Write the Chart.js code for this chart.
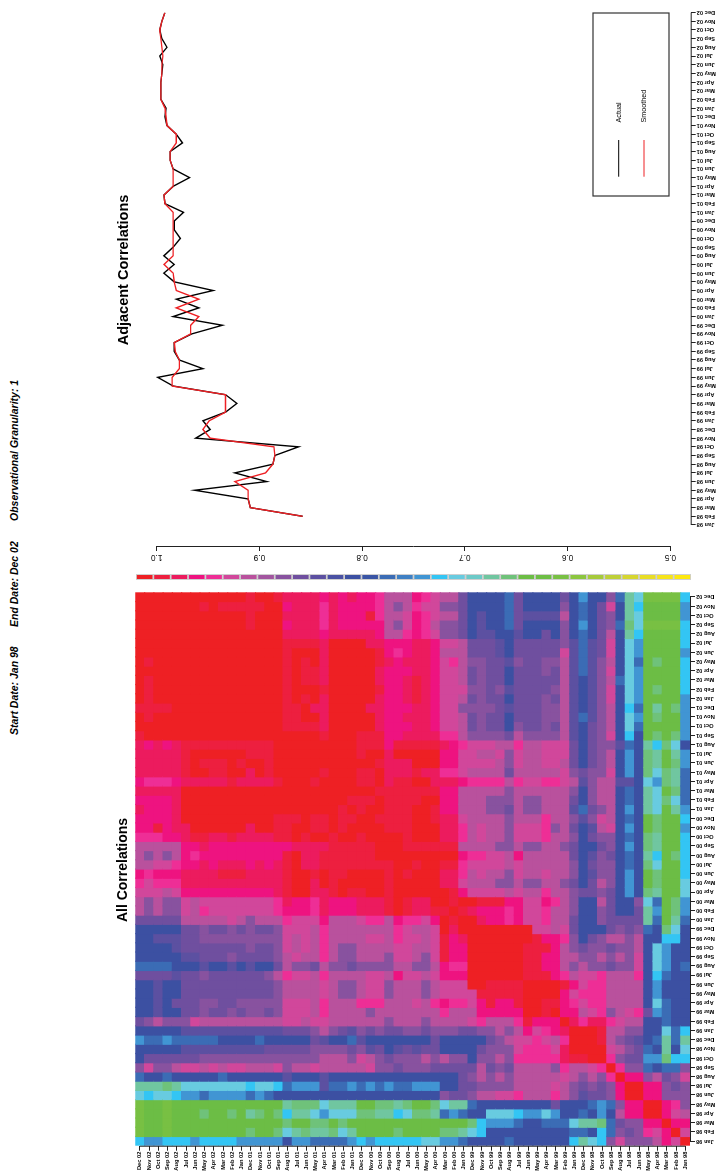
<!DOCTYPE html>
<html><head><meta charset="utf-8">
<script src="https://cdn.jsdelivr.net/npm/chart.js@4"></script>
<style>
html,body{margin:0;padding:0;background:#fff;width:718px;height:1172px;overflow:hidden}
#page{position:absolute;left:0;top:1172px;width:1172px;height:718px;transform-origin:0 0;transform:rotate(-90deg)}
#page canvas{position:absolute}
.hd{position:absolute;top:8px;font:italic bold 10.5px "Liberation Sans",Arial,sans-serif;color:#000;white-space:nowrap}
</style></head>
<body>
<div id="page">
<div class="hd" style="left:437px">Start Date: Jan 98</div>
<div class="hd" style="left:545px">End Date: Dec 02</div>
<div class="hd" style="left:651px">Observational Granularity: 1</div>
<canvas id="heat" width="604" height="718" style="left:0;top:0"></canvas>
<canvas id="bar" width="6" height="555" style="left:592px;top:135.5px;background:#cfcfcf"></canvas>
<canvas id="line" width="596" height="718" style="left:604px;top:0"></canvas>
</div>
<script>
const months=["Jan 98","Feb 98","Mar 98","Apr 98","May 98","Jun 98","Jul 98","Aug 98","Sep 98","Oct 98","Nov 98","Dec 98",
"Jan 99","Feb 99","Mar 99","Apr 99","May 99","Jun 99","Jul 99","Aug 99","Sep 99","Oct 99","Nov 99","Dec 99",
"Jan 00","Feb 00","Mar 00","Apr 00","May 00","Jun 00","Jul 00","Aug 00","Sep 00","Oct 00","Nov 00","Dec 00",
"Jan 01","Feb 01","Mar 01","Apr 01","May 01","Jun 01","Jul 01","Aug 01","Sep 01","Oct 01","Nov 01","Dec 01",
"Jan 02","Feb 02","Mar 02","Apr 02","May 02","Jun 02","Jul 02","Aug 02","Sep 02","Oct 02","Nov 02","Dec 02"];
// adjacent correlations, Feb 98 .. Dec 02
const adjacentActual=[.858,.909,.911,.963,.893,.924,.887,.885,.862,.962,.948,.955,.933,.922,.933,.984,.999,.955,.978,.983,.983,.966,.936,.984,.959,.981,.945,.983,.993,.983,.993,.984,.977,.983,.983,.974,.992,.993,.984,.968,.984,.987,.987,.975,.981,.990,.992,.991,.996,.996,.996,.995,.994,.997,.990,.995,.997,.995,.992];
const adjacentSmoothed=[.858,.909,.911,.911,.924,.894,.887,.885,.886,.948,.955,.949,.933,.933,.933,.985,.985,.978,.978,.982,.983,.967,.967,.959,.981,.959,.981,.983,.984,.993,.984,.984,.984,.984,.984,.984,.992,.993,.984,.984,.984,.987,.987,.981,.981,.990,.991,.992,.996,.996,.996,.995,.995,.994,.995,.996,.997,.995,.992];
const valueTicks=[1.0,0.9,0.8,0.7,0.6,0.5];
const seriesNames=["Actual","Smoothed"];
const titleHeat="All Correlations";
const titleLine="Adjacent Correlations";
// correlation (percent) of each month with every earlier month; the matrix is symmetric
const corrLower=[
[99],
[91,99],
[95,95,99],
[90,91,95,99],
[87,93,95,99,99],
[87,87,87,95,95,99],
[87,85,87,95,95,99,99],
[91,87,85,90,87,95,95,99],
[87,77,77,80,77,87,87,93,99],
[73,73,66,74,74,85,85,87,93,99],
[71,80,68,80,77,85,87,90,91,99,99],
[68,77,68,77,80,84,85,87,90,98,99,99],
[73,77,71,80,80,87,87,90,90,98,99,99,99],
[80,80,77,80,80,90,90,91,93,96,96,93,96,99],
[80,80,77,74,85,93,91,90,87,93,91,90,95,95,99],
[80,80,77,71,80,90,90,90,90,93,93,91,93,95,98,98],
[80,80,80,74,80,90,90,90,90,93,93,93,91,95,99,99,99],
[80,80,80,74,80,90,90,90,90,93,93,91,95,98,99,99,99,99],
[80,80,77,73,80,93,90,90,90,93,91,91,90,93,95,98,98,98,99],
[77,80,74,71,80,91,87,87,85,87,87,90,87,90,95,95,98,98,99,99],
[80,80,74,71,80,91,87,90,87,90,87,87,90,90,95,95,98,98,99,99,99],
[80,80,74,71,80,90,87,87,85,87,87,85,87,90,95,98,98,98,99,99,99,99],
[80,73,73,80,80,90,87,90,90,87,85,80,87,93,95,95,98,99,99,99,99,99,99],
[80,71,66,80,77,87,85,87,85,80,80,80,85,91,90,91,91,99,99,99,99,99,99,99],
[77,68,65,77,68,85,85,85,85,87,80,80,85,90,90,93,91,91,95,93,95,95,96,99,99],
[74,66,65,74,68,85,80,80,85,87,80,80,87,90,90,93,91,91,95,93,95,95,95,96,98,99],
[74,66,65,77,71,87,80,80,85,90,80,80,87,90,93,95,91,91,95,95,98,98,98,99,99,98,99],
[71,65,65,68,66,80,74,80,85,87,85,85,87,90,90,93,90,90,91,90,91,91,91,91,95,98,99,99],
[71,65,65,66,65,80,74,80,87,90,85,80,85,87,90,90,87,87,90,87,87,90,90,90,91,96,96,99,99],
[73,65,65,66,65,80,74,80,87,87,84,80,87,90,90,91,90,90,91,87,90,90,91,90,93,96,96,99,99,99],
[73,65,65,71,66,80,77,80,87,87,85,80,87,90,90,90,90,90,91,90,91,91,91,91,93,98,98,99,99,98,99],
[73,66,65,73,68,80,77,80,85,87,84,80,85,90,90,90,90,90,95,90,91,91,93,93,95,99,99,99,99,99,99,99],
[73,65,65,68,66,80,74,80,87,85,80,80,85,87,90,90,87,87,90,87,87,90,90,90,90,98,98,98,98,98,98,99,99],
[73,65,65,68,66,80,77,80,87,87,85,80,87,90,90,93,91,91,91,87,90,90,91,90,93,96,96,99,99,99,98,99,99,99],
[74,65,65,66,65,80,74,80,91,90,84,80,85,90,87,93,91,91,91,87,90,90,91,90,93,96,96,99,99,99,98,98,98,99,99],
[73,65,65,66,65,80,77,80,90,91,87,84,87,90,90,93,90,90,90,87,90,90,90,90,91,96,96,98,99,99,98,98,98,98,99,99],
[74,68,65,71,68,80,74,80,90,87,85,77,84,90,90,90,87,87,90,85,87,87,90,90,90,95,95,98,99,99,98,98,98,99,99,98,99],
[77,71,66,71,68,80,77,80,90,90,87,80,85,90,90,90,87,87,90,87,87,87,90,90,90,95,95,99,99,98,98,98,98,99,98,98,98,99],
[77,66,65,71,68,80,77,80,90,90,87,80,87,90,90,90,90,90,90,87,90,90,90,90,90,95,95,98,98,98,98,98,98,98,99,99,99,99,99],
[77,68,66,74,71,80,84,84,90,90,87,84,90,91,93,93,91,91,93,90,93,93,93,93,95,96,96,96,99,99,98,98,96,99,98,98,99,99,99,99],
[77,68,66,71,66,80,74,80,91,87,87,85,87,91,90,90,90,90,90,85,90,90,90,90,91,93,93,96,96,98,96,96,96,99,98,98,99,99,99,98,99],
[74,66,65,68,66,80,74,80,90,87,85,80,85,90,91,91,90,90,91,87,90,91,91,91,91,95,95,99,99,99,96,96,96,98,99,99,99,99,99,99,99,99],
[74,68,65,68,66,80,74,80,90,87,85,80,85,91,91,91,90,90,91,87,91,90,90,91,91,95,95,99,99,99,99,99,96,99,99,98,99,99,99,99,99,99,99],
[80,71,66,73,68,80,77,84,87,87,85,80,85,91,91,91,90,90,93,90,90,91,91,91,93,95,96,98,98,98,98,98,95,98,98,98,99,99,99,99,99,99,99,99],
[74,66,65,66,65,80,73,80,91,87,85,80,84,90,87,87,87,87,90,85,87,87,87,87,90,93,93,96,96,96,96,95,95,98,98,98,99,99,99,98,99,99,99,99,99],
[74,65,65,65,65,77,71,80,90,87,85,80,84,90,85,87,85,85,87,80,85,85,87,85,90,91,91,95,96,96,95,95,95,96,99,99,99,99,99,96,98,98,98,98,99,99],
[74,65,65,66,65,74,71,80,90,87,84,77,84,90,87,87,85,85,85,80,85,85,87,85,90,91,91,95,96,96,96,95,95,96,99,99,99,99,99,96,99,99,98,98,99,99,99],
[74,66,65,68,65,77,73,80,90,87,84,80,84,90,87,87,85,85,85,84,85,87,87,87,87,91,91,95,96,96,95,95,95,96,96,99,99,99,99,96,96,99,98,98,99,99,99,99],
[74,65,65,65,65,74,71,80,91,87,84,80,84,90,85,87,85,85,85,80,85,85,87,85,90,91,91,95,96,98,96,95,95,96,99,99,99,99,99,96,99,98,99,98,99,99,99,99,99],
[73,65,65,66,65,74,71,80,91,87,84,80,84,90,87,85,85,85,85,84,87,85,87,87,91,91,91,95,96,98,96,95,95,98,99,99,99,99,99,98,99,99,99,98,99,99,99,99,99,99],
[73,65,65,65,65,74,71,77,90,87,84,80,84,90,85,85,85,85,85,80,85,85,87,85,90,91,91,95,96,98,96,95,95,96,99,99,99,99,99,96,98,98,99,98,99,99,99,99,99,99,99],
[73,65,65,65,65,74,71,80,91,87,84,77,84,90,85,87,85,85,85,80,85,85,87,85,90,91,91,95,96,96,95,95,95,96,99,99,99,99,99,96,98,98,99,98,99,99,99,99,99,99,99,99],
[73,65,65,66,65,77,71,80,90,87,84,77,84,90,87,87,85,85,87,84,85,85,87,87,90,93,91,95,96,96,96,95,96,98,99,99,99,99,99,96,99,98,99,98,99,99,99,99,99,99,99,99,99],
[74,65,65,65,65,74,71,80,91,85,84,77,84,91,85,85,85,85,85,80,84,85,85,85,90,90,90,95,96,96,95,93,95,98,99,99,99,99,99,96,99,99,99,98,99,99,99,99,99,99,99,99,99,99],
[73,65,65,65,65,74,71,80,91,85,84,77,84,87,85,85,85,85,85,80,84,85,85,85,90,91,91,95,96,96,95,95,95,96,96,99,99,99,99,96,98,98,98,98,99,99,99,99,99,99,99,99,99,99,99],
[73,65,65,65,65,73,68,80,90,85,80,77,80,87,80,85,80,80,84,80,80,84,84,80,85,87,87,91,93,95,93,90,90,95,96,96,96,96,96,95,96,96,96,96,99,99,99,99,99,99,99,99,99,99,99,99],
[73,62,62,62,62,71,66,77,87,85,80,74,80,87,80,80,80,80,85,77,80,80,84,80,85,87,87,90,93,95,91,87,90,95,95,95,95,95,96,93,96,96,96,95,99,99,99,98,99,99,99,99,99,99,99,99,99],
[74,65,65,65,65,71,68,80,87,85,80,77,80,90,84,84,84,84,85,77,80,80,84,80,85,90,90,91,93,95,91,90,90,93,98,95,95,95,96,93,96,96,96,96,99,99,99,98,99,99,99,99,99,99,99,99,99,99],
[74,65,65,65,65,73,68,80,91,85,80,77,80,87,80,80,80,80,85,77,80,80,80,80,85,87,87,91,91,93,90,87,90,93,95,95,95,95,96,93,96,96,96,95,99,99,98,98,98,98,98,99,98,99,99,99,99,99,99],
[73,62,62,62,62,71,68,77,87,80,80,74,80,85,80,80,80,80,85,77,80,80,80,80,85,90,90,91,93,95,90,90,90,93,95,95,96,95,96,95,96,96,96,96,98,99,99,98,99,99,99,99,99,99,99,99,99,99,99,99]
];
const palette=["#ee2024","#ed1f3f","#ec1b5e","#ee1380","#ee2e96","#d1479b","#b9519d","#a2559f","#88529f","#6f4f9f","#5c50a1","#4a51a3","#3c50a2","#3a55a5","#3b6cb5","#3f80c4","#4195d3","#33c5f4","#68cbe0","#6ccac8","#70c6a0","#6fc27a","#6cbd45","#6dbe45","#78c043","#8cc63f","#a6ca3b","#bed038","#d6d630","#e8dd25","#f6e41b","#fde80f"];

const FONT='"Liberation Sans",Arial,sans-serif';
const INK='#222';
const corrAt=(i,j)=>i<=j?corrLower[j][i]:corrLower[i][j];
const colorFor=v=>palette[Math.min(31,Math.floor((100-v)*0.64))];
Chart.defaults.animation=false;
Chart.defaults.responsive=false;
Chart.defaults.font.family=FONT;

function hline(c,y,x0,x1){c.beginPath();c.moveTo(x0,y);c.lineTo(x1,y);c.stroke();}
function vline(c,x,y0,y1){c.beginPath();c.moveTo(x,y0);c.lineTo(x,y1);c.stroke();}
function drawTitle(c,text,size,x){c.fillStyle='#000';c.font='bold '+size+'px '+FONT;c.textAlign='center';c.textBaseline='middle';c.fillText(text,x,123.5);}

const heatAxes={id:'heatAxes',afterDraw(ch){const c=ch.ctx,a=ch.chartArea,x=ch.scales.x,y=ch.scales.y;
  c.save();c.strokeStyle=INK;c.lineWidth=1;
  hline(c,a.bottom+.5,x.getPixelForValue(0),x.getPixelForValue(59));
  vline(c,a.left-.5,y.getPixelForValue(59.5),y.getPixelForValue(.5));
  drawTitle(c,titleHeat,14,302);
  c.restore();}};

new Chart(document.getElementById('heat'),{
  type:'bar',
  data:{labels:months,datasets:months.map((m,j)=>({
    label:m,
    data:months.map(()=>[j,j+1]),
    backgroundColor:months.map((_,i)=>colorFor(corrAt(i,j))),
    borderWidth:0,inflateAmount:.6,barPercentage:1,categoryPercentage:1,grouped:false}))},
  options:{
    layout:{padding:{right:24.3,left:0,top:135.3,bottom:0}},
    plugins:{legend:{display:false},tooltip:{enabled:false}},
    scales:{
      x:{type:'category',offset:true,grid:{offset:false,drawOnChartArea:false,tickLength:5,tickColor:INK,tickWidth:1},border:{display:false},
        afterFit(s){s.height=28;},
        ticks:{autoSkip:false,minRotation:90,maxRotation:90,padding:1,color:'#000',font:{size:5.7,weight:'bold'}}},
      y:{type:'linear',min:0,max:60,grid:{drawOnChartArea:false,tickLength:5,tickColor:INK,tickWidth:1},border:{display:false},
        afterFit(s){s.width=26.3;},
        afterBuildTicks(s){s.ticks=months.map((m,j)=>({value:j+.5}));},
        ticks:{autoSkip:false,padding:1,color:'#000',font:{size:5.7,weight:'bold'},callback:v=>months[Math.round(v-.5)]}}
    }},
  plugins:[heatAxes]
});

new Chart(document.getElementById('bar'),{
  type:'bar',
  data:{labels:palette.map((_,i)=>i),datasets:[{data:palette.map(()=>1),backgroundColor:palette,borderWidth:0,barPercentage:1,categoryPercentage:.9}]},
  options:{indexAxis:'y',layout:{padding:{left:1,right:1}},
    plugins:{legend:{display:false},tooltip:{enabled:false}},
    scales:{x:{display:false,min:0,max:1},y:{display:false}}}
});

const lineDecor={id:'lineDecor',afterDraw(ch){const c=ch.ctx,a=ch.chartArea,x=ch.scales.x,y=ch.scales.y;
  c.save();c.strokeStyle=INK;c.lineWidth=1;
  hline(c,a.bottom+.5,x.getPixelForValue(0),x.getPixelForValue(59));
  vline(c,a.left-.5,y.getPixelForValue(valueTicks[0]),y.getPixelForValue(valueTicks[5]));
  drawTitle(c,titleLine,14.5,298);
  // legend box
  const L=976-604,R=1159-604,T=593,B=669;
  c.lineWidth=1.2;c.strokeStyle='#333';c.strokeRect(L,T,R-L,B-T);
  const rows=[{y:618.7,col:'#000',name:seriesNames[0]},{y:644,col:'#ee2024',name:seriesNames[1]}];
  c.font='7.2px '+FONT;c.textAlign='left';c.textBaseline='middle';
  rows.forEach(r=>{c.strokeStyle=r.col;c.lineWidth=1;hline(c,r.y,995.3-604,1032-604);c.fillStyle='#000';c.fillText(r.name,1049.5-604,r.y+.5);});
  c.restore();}};

new Chart(document.getElementById('line'),{
  type:'line',
  data:{datasets:[
    {label:seriesNames[1],order:0,data:adjacentSmoothed.map((v,k)=>({x:k+1,y:v})),borderColor:'#ee2024',borderWidth:1.4,pointRadius:0,tension:0,fill:false},
    {label:seriesNames[0],order:1,data:adjacentActual.map((v,k)=>({x:k+1,y:v})),borderColor:'#000',borderWidth:1.4,pointRadius:0,tension:0,fill:false}
  ]},
  options:{
    layout:{padding:{right:40.6,left:0,top:133,bottom:0}},
    plugins:{legend:{display:false},tooltip:{enabled:false}},
    scales:{
      x:{type:'linear',min:-2.42,max:59,grid:{drawOnChartArea:false,tickLength:5,tickColor:INK,tickWidth:1},border:{display:false},
        afterFit(s){s.height=27.3;},
        afterBuildTicks(s){s.ticks=months.map((m,k)=>({value:k}));},
        ticks:{autoSkip:false,minRotation:90,maxRotation:90,padding:1,color:'#000',font:{size:5.7,weight:'bold'},callback:v=>months[Math.round(v)]}},
      y:{type:'linear',min:.4802,max:1.0231,grid:{drawOnChartArea:false,tickLength:5,tickColor:INK,tickWidth:1},border:{display:false},
        afterFit(s){s.width=22;},
        afterBuildTicks(s){s.ticks=valueTicks.map(v=>({value:v}));},
        ticks:{autoSkip:false,minRotation:90,maxRotation:90,crossAlign:'center',padding:1,color:'#000',font:{size:8.2},callback:v=>v.toFixed(1)}}
    }},
  plugins:[lineDecor]
});
</script>
</body></html>
